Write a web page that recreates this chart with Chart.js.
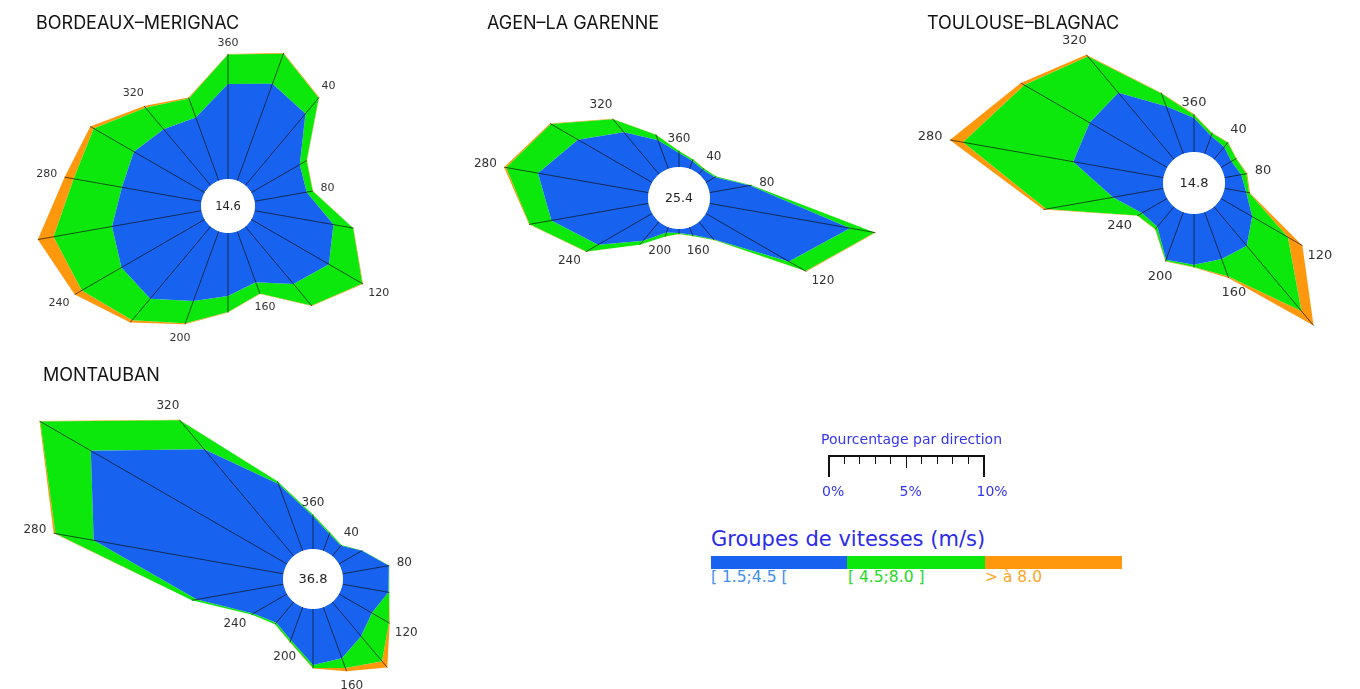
<!DOCTYPE html>
<html>
<head>
<meta charset="utf-8">
<script src="https://cdn.jsdelivr.net/npm/chart.js@4.4.1/dist/chart.umd.min.js"></script>
<style>
  html, body { margin:0; padding:0; width:1360px; height:689px; overflow:hidden; background:#ffffff; position:relative; }
  canvas { position:absolute; }
  .title { position:absolute; font-family: Inter, "Noto Sans", sans-serif; font-size:18px; color:#141414; white-space:nowrap; line-height:18px; }
  .lg { position:absolute; font-family: "DejaVu Sans", sans-serif; white-space:nowrap; line-height:1; }
  .bar { position:absolute; background:#111; }
</style>
</head>
<body>
<script>
// ---------------- DATA ----------------
const directions = [20, 40, 60, 80, 100, 120, 140, 160, 180, 200, 220, 240, 260, 280, 300, 320, 340, 360];
const labelledDirections = [40, 80, 120, 160, 200, 240, 280, 320, 360];

const stationNames = ['BORDEAUX–MERIGNAC', 'AGEN–LA GARENNE', 'TOULOUSE–BLAGNAC', 'MONTAUBAN'];

// % per direction, speed group [1.5;4.5[ (blue), [4.5;8.0] (green), > 8.0 (orange)
const bordeauxBlue   = [4.44, 4.03, 2.41, 2.28, 3.45, 3.86, 3.22, 2.33, 2.72, 3.19, 4.05, 4.14, 3.91, 3.48, 3.52, 3.15, 2.89, 4.09];
const bordeauxGreen  = [1.38, 0.89, 0.34, 0.26, 0.86, 1.66, 1.22, 0.52, 0.69, 1.03, 1.21, 1.97, 2.56, 2.11, 2.00, 1.22, 0.88, 1.28];
const bordeauxOrange = [0.04, 0.03, 0.02, 0.02, 0.02, 0.04, 0.02, 0.02, 0.02, 0.04, 0.13, 0.36, 0.69, 0.40, 0.17, 0.09, 0.04, 0.02];
const bordeauxCalm = 14.6;

const agenBlue   = [0.61, 0.44, 0.78, 2.99, 10.41, 6.99, 1.66, 0.60, 0.29, 0.42, 1.82, 4.55, 7.19, 8.19, 6.25, 4.00, 2.23, 1.02];
const agenGreen  = [0.12, 0.11, 0.09, 0.12, 1.83, 1.42, 0.09, 0.09, 0.07, 0.31, 0.36, 0.99, 1.62, 2.36, 2.29, 1.23, 0.42, 0.15];
const agenOrange = [0.02, 0.02, 0.02, 0.02, 0.06, 0.06, 0.02, 0.02, 0.02, 0.02, 0.02, 0.04, 0.04, 0.15, 0.07, 0.06, 0.02, 0.02];
const agenCalm = 25.4;

const toulouseBlue   = [1.20, 1.01, 0.77, 1.08, 1.39, 2.29, 3.23, 3.15, 3.21, 3.20, 1.65, 1.84, 3.25, 5.80, 5.66, 5.49, 3.20, 2.15];
const toulouseGreen  = [0.19, 0.36, 0.35, 0.32, 0.19, 2.61, 5.38, 1.17, 0.15, 0.09, 0.19, 0.32, 4.28, 7.08, 4.77, 3.00, 0.87, 0.19];
const toulouseOrange = [0.03, 0.03, 0.03, 0.06, 0.06, 1.06, 1.20, 0.11, 0.03, 0.03, 0.03, 0.03, 0.19, 0.85, 0.27, 0.15, 0.05, 0.06];
const toulouseCalm = 14.8;

const montaubanBlue   = [0.79, 0.59, 1.17, 2.07, 2.05, 1.67, 1.97, 2.39, 2.47, 1.54, 1.19, 1.72, 3.87, 8.49, 9.98, 6.14, 3.13, 1.44];
const montaubanGreen  = [0.07, 0.04, 0.02, 0.02, 0.04, 0.87, 1.44, 0.46, 0.13, 0.09, 0.09, 0.09, 0.23, 1.71, 2.57, 1.67, 0.13, 0.08];
const montaubanOrange = [0.00, 0.00, 0.00, 0.00, 0.00, 0.04, 0.36, 0.15, 0.02, 0.02, 0.00, 0.00, 0.00, 0.08, 0.04, 0.03, 0.00, 0.00];
const montaubanCalm = 36.8;

const speedGroups = ['[ 1.5;4.5 [', '[ 4.5;8.0 ]', '> à 8.0'];
const scaleTickLabels = ['0%', '5%', '10%'];

// ---------------- STYLE ----------------
const BLUE = '#1762ee';
const GREEN = '#0ce80c';
const ORANGE = '#ff980d';

const rosePlugin = {
  id: 'rose',
  afterDatasetsDraw(chart, args, opts) {
    const scale = chart.scales.r;
    const ctx = chart.ctx;
    const totals = chart.data.datasets[2].data;
    const cx = scale.xCenter, cy = scale.yCenter;
    ctx.save();
    // spokes
    ctx.strokeStyle = 'rgba(15,15,15,0.85)';
    ctx.lineWidth = 0.8;
    for (let i = 0; i < totals.length; i++) {
      const p = scale.getPointPositionForValue(i, totals[i]);
      ctx.beginPath();
      ctx.moveTo(cx, cy);
      ctx.lineTo(p.x, p.y);
      ctx.stroke();
    }
    // calm circle
    const r0 = scale.getDistanceFromCenterForValue(0);
    ctx.fillStyle = '#ffffff';
    ctx.beginPath();
    ctx.arc(cx, cy, r0, 0, Math.PI * 2);
    ctx.fill();
    ctx.fillStyle = '#222';
    ctx.font = opts.calmFont + 'px "DejaVu Sans", sans-serif';
    ctx.textAlign = 'center';
    ctx.textBaseline = 'middle';
    ctx.fillText(opts.calm.toFixed(1), cx, cy + 1);
    // direction labels
    ctx.fillStyle = '#333';
    ctx.font = opts.labelFont + 'px "DejaVu Sans", sans-serif';
    const labels = chart.data.labels;
    for (let i = 0; i < labels.length; i++) {
      if (!labelledDirections.includes(Number(labels[i]))) continue;
      const a = Number(labels[i]) * Math.PI / 180;
      const w = ctx.measureText(labels[i]).width;
      const h = opts.labelFont * 0.75;
      const ext = Math.abs(Math.sin(a)) * w / 2 + Math.abs(Math.cos(a)) * h / 2;
      const d = scale.getDistanceFromCenterForValue(totals[i]) + opts.gap + ext;
      const p = scale.getPointPosition(i, d);
      ctx.fillText(labels[i], p.x, p.y);
    }
    ctx.restore();
  }
};

function makeRose(cx, cy, R, r0, pxPerPct, blue, green, orange, calm, labelFont, calmFont) {
  const canvas = document.createElement('canvas');
  canvas.width = 2 * R;
  canvas.height = 2 * R;
  canvas.style.left = (cx - R) + 'px';
  canvas.style.top = (cy - R) + 'px';
  canvas.style.width = (2 * R) + 'px';
  canvas.style.height = (2 * R) + 'px';
  document.body.appendChild(canvas);
  const c1 = blue.slice();
  const c2 = blue.map((v, i) => v + green[i]);
  const c3 = c2.map((v, i) => v + orange[i]);
  const min = -r0 / pxPerPct;
  const max = min + R / pxPerPct;
  new Chart(canvas, {
    type: 'radar',
    data: {
      labels: directions.map(String),
      datasets: [
        { data: c1, backgroundColor: BLUE, borderColor: 'transparent', borderWidth: 0, fill: 'origin', pointRadius: 0 },
        { data: c2, backgroundColor: GREEN, borderColor: 'transparent', borderWidth: 0, fill: '-1', pointRadius: 0 },
        { data: c3, backgroundColor: ORANGE, borderColor: 'transparent', borderWidth: 0, fill: '-1', pointRadius: 0 }
      ]
    },
    options: {
      responsive: false,
      animation: false,
      devicePixelRatio: 1,
      layout: { padding: 0 },
      elements: { line: { tension: 0 }, point: { radius: 0, hitRadius: 0 } },
      plugins: {
        legend: { display: false },
        tooltip: { enabled: false },
        rose: { calm: calm, labelFont: labelFont, calmFont: calmFont, gap: 7 }
      },
      scales: {
        r: {
          min: min, max: max,
          startAngle: directions[0],
          grid: { display: false },
          angleLines: { display: false },
          ticks: { display: false },
          pointLabels: { display: false }
        }
      }
    },
    plugins: [rosePlugin]
  });
}

makeRose(228, 206, 225, 27, 23.2, bordeauxBlue, bordeauxGreen, bordeauxOrange, bordeauxCalm, 11, 11.5);
makeRose(679, 198, 235, 31, 13.7, agenBlue, agenGreen, agenOrange, agenCalm, 12, 12.5);
makeRose(1194, 183, 290, 31, 15.8, toulouseBlue, toulouseGreen, toulouseOrange, toulouseCalm, 13, 13);
makeRose(313, 579, 350, 30, 22.7, montaubanBlue, montaubanGreen, montaubanOrange, montaubanCalm, 12, 13);

// ---------------- TITLES ----------------
const titlePos = [[36, 14], [487, 14], [927, 14], [43, 366]];
stationNames.forEach((n, i) => {
  const d = document.createElement('div');
  d.className = 'title';
  d.textContent = n;
  d.style.left = titlePos[i][0] + 'px';
  d.style.top = titlePos[i][1] + 'px';
  document.body.appendChild(d);
});

// ---------------- LEGEND ----------------
function addText(txt, left, top, size, color, center) {
  const d = document.createElement('div');
  d.className = 'lg';
  d.textContent = txt;
  d.style.fontSize = size + 'px';
  d.style.color = color;
  d.style.top = top + 'px';
  document.body.appendChild(d);
  if (center) d.style.left = (left - d.offsetWidth / 2) + 'px';
  else d.style.left = left + 'px';
  return d;
}
function addBar(left, top, w, h, color) {
  const d = document.createElement('div');
  d.className = 'bar';
  d.style.left = left + 'px'; d.style.top = top + 'px';
  d.style.width = w + 'px'; d.style.height = h + 'px';
  if (color) d.style.background = color;
  document.body.appendChild(d);
}
const LEG_BLUE = '#3535ee';
addText('Pourcentage par direction', 821, 432, 14, LEG_BLUE, false);
const x0 = 828, unit = 15.5, yLine = 455;
addBar(x0, yLine, unit * 10 + 1.5, 1.6);
for (let k = 0; k <= 10; k++) {
  const h = (k === 0 || k === 10) ? 22 : (k === 5 ? 13 : 9);
  addBar(x0 + k * unit, yLine, (k === 0 || k === 10) ? 1.8 : 1.2, h);
}
[0, 5, 10].forEach((v, i) => addText(scaleTickLabels[i], x0 + v * unit + (i === 2 ? 9 : 5), 484, 14, LEG_BLUE, true));

addText('Groupes de vitesses (m/s)', 711, 529, 21, '#2b2be8', false);
addBar(711, 556, 136, 13, BLUE);
addBar(847, 556, 138, 13, GREEN);
addBar(985, 556, 137, 13, ORANGE);
addText(speedGroups[0], 711, 570, 15.5, '#3d8df2', false);
addText(speedGroups[1], 848, 570, 15.5, '#25d925', false);
addText(speedGroups[2], 985, 570, 15.5, '#ffa624', false);
</script>
</body>
</html>
